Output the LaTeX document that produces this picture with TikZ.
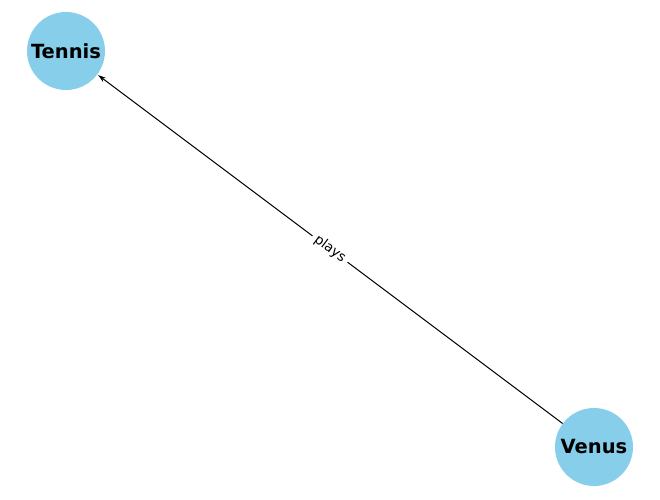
\documentclass[tikz,border=0pt]{standalone}
\usepackage{fontspec}
\setmainfont{DejaVu Sans}
\usetikzlibrary{arrows.meta}
\definecolor{skyblue}{HTML}{87CEEB}
\tikzset{
	player/.style={circle, fill=skyblue, minimum size=78pt, inner sep=0pt, font=\fontsize{19.5}{21}\selectfont\bfseries},
	rel/.style={-{Stealth[length=8pt,width=5pt]}, line width=1pt, shorten >=1pt},
	rellabel/.style={fill=white, inner xsep=4pt, inner ysep=1pt, font=\fontsize{13.5}{15}\selectfont, sloped}
}
\begin{document}
\begin{tikzpicture}[x=1pt, y=-1pt]
			%%%%% START %%%%%
			
			\useasboundingbox (0, 0) rectangle (660, 499);
			
			\node[player] (tennis) at (66, 51) {Tennis};
			\node[player] (venus) at (594, 447) {Venus};
			
			\draw[rel] (venus) -- node[rellabel] {plays} (tennis);
			
			%%%%% END %%%%%
\end{tikzpicture}
\end{document}
